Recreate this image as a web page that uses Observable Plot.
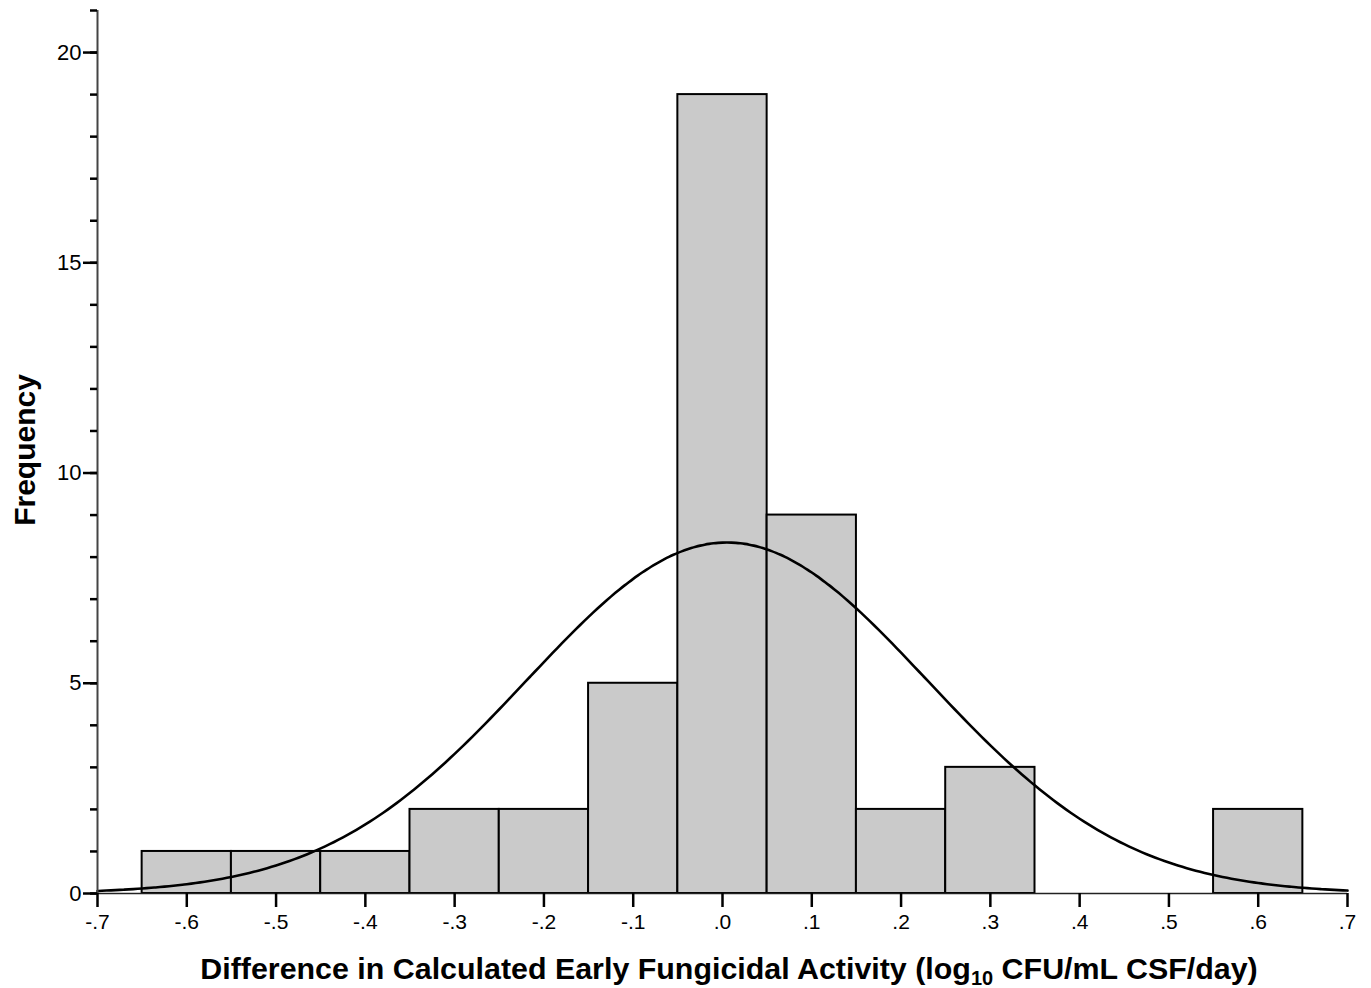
<!DOCTYPE html>
<html>
<head>
<meta charset="utf-8">
<script src="https://cdn.jsdelivr.net/npm/d3@7"></script>
<script src="https://cdn.jsdelivr.net/npm/@observablehq/plot@0.6"></script>
<style>
  html, body { margin: 0; padding: 0; background: #fff; }
  svg { display: block; }
</style>
</head>
<body>
<div id="chart"></div>
<script>
// Histogram bins (lower edge) and frequencies
const binStarts = [-0.65, -0.55, -0.45, -0.35, -0.25, -0.15, -0.05, 0.05, 0.15, 0.25, 0.55];
const counts    = [1, 1, 1, 2, 2, 5, 19, 9, 2, 3, 2];
const binWidth = 0.1;

// Fitted normal curve parameters
const fitMean = 0.005;
const fitSD = 0.2246;
const fitN = 47;

// Tick values
const xTicks = [-0.7, -0.6, -0.5, -0.4, -0.3, -0.2, -0.1, 0, 0.1, 0.2, 0.3, 0.4, 0.5, 0.6, 0.7];
const yMajorTicks = [0, 5, 10, 15, 20];
const yMinorTicks = d3.range(0, 22);

const bars = binStarts.map((b, i) => ({x1: b, x2: b + binWidth, y: counts[i]}));
const curve = d3.range(0, 281).map(i => {
  const x = -0.7 + i * 0.005;
  const z = (x - fitMean) / fitSD;
  return {x, y: fitN * binWidth / (fitSD * Math.sqrt(2 * Math.PI)) * Math.exp(-0.5 * z * z)};
});

const fmt = d => {
  const s = d3.format(".1f")(Math.abs(d) < 1e-9 ? 0 : d).replace("−", "-");
  return s.replace(/^(-?)0\./, "$1.");
};

const chart = Plot.plot({
  width: 1371,
  height: 988,
  marginLeft: 97,
  marginRight: 24,
  marginTop: 10,
  marginBottom: 95,
  style: {fontFamily: "'Liberation Sans', Arial, sans-serif", color: "#000", background: "#fff"},
  x: {domain: [-0.7, 0.7]},
  y: {domain: [0, 21]},
  marks: [
    Plot.rectY(bars, {x1: "x1", x2: "x2", y: "y", fill: "#cacaca", stroke: "#000", strokeWidth: 2}),
    Plot.line(curve, {x: "x", y: "y", stroke: "#000", strokeWidth: 2.6, curve: "basis"}),
    Plot.ruleX([-0.7], {y1: 0, y2: 21, stroke: "#444", strokeWidth: 2}),
    Plot.ruleY([0], {x1: -0.7, x2: 0.7, stroke: "#222", strokeWidth: 1.5}),
    Plot.axisY(yMinorTicks, {tickSize: 7, tickFormat: () => "", label: null, strokeWidth: 2.5}),
    Plot.axisY(yMajorTicks, {tickSize: 14, tickPadding: 2, tickFormat: d => String(d), label: null, strokeWidth: 2.5, fontSize: 22}),
    Plot.axisX(xTicks, {tickSize: 14, tickPadding: 7, tickFormat: fmt, label: null, strokeWidth: 2.5, fontSize: 21})
  ]
});

const svg = d3.select(chart);

// Y axis title
svg.append("text")
  .attr("transform", "translate(35,450) rotate(-90)")
  .attr("text-anchor", "middle")
  .attr("font-family", "'Liberation Sans', Arial, sans-serif")
  .attr("font-weight", "bold")
  .attr("font-size", 30)
  .attr("fill", "#000")
  .text("Frequency");

// X axis title with subscript
const xt = svg.append("text")
  .attr("x", 729)
  .attr("y", 979)
  .attr("text-anchor", "middle")
  .attr("font-family", "'Liberation Sans', Arial, sans-serif")
  .attr("font-weight", "bold")
  .attr("font-size", 30.4)
  .attr("fill", "#000");
xt.append("tspan").text("Difference in Calculated Early Fungicidal Activity (log");
xt.append("tspan").attr("font-size", 20).attr("dy", 6).text("10");
xt.append("tspan").attr("dy", -6).text(" CFU/mL CSF/day)");

document.getElementById("chart").appendChild(chart);
</script>
</body>
</html>
